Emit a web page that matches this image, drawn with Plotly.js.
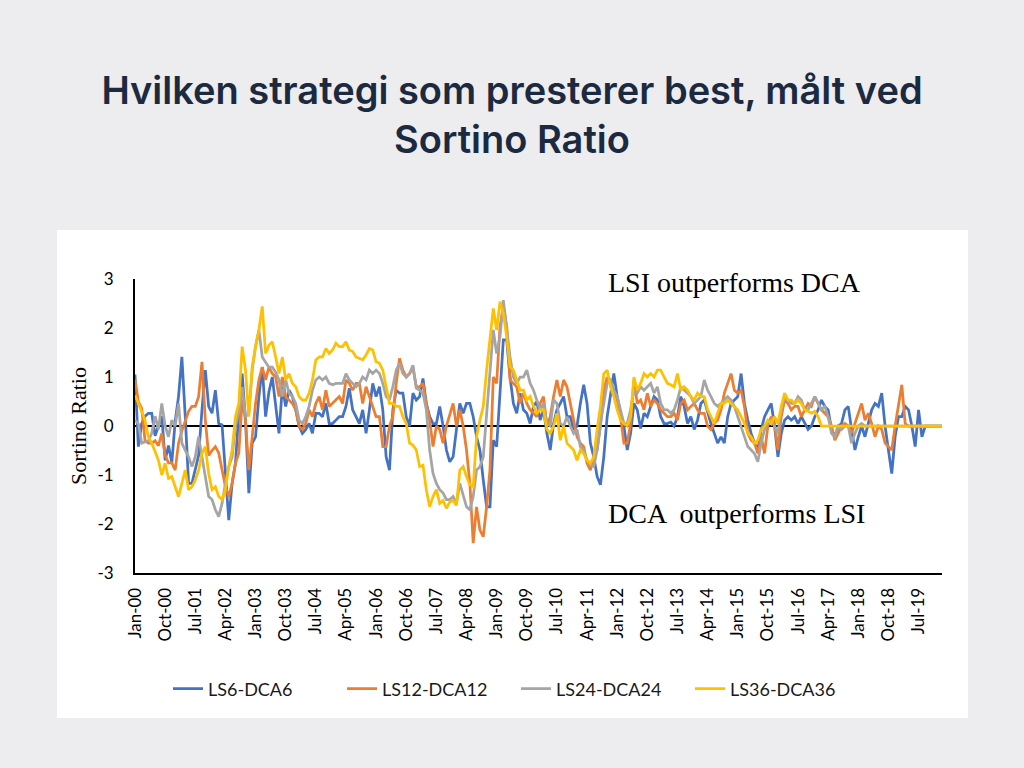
<!DOCTYPE html>
<html>
<head>
<meta charset="utf-8">
<script src="https://cdn.plot.ly/plotly-3.0.1.min.js"></script>
<style>
  html, body { margin: 0; padding: 0; background: #EDECEF; }
  #chart { width: 1024px; height: 768px; }
</style>
</head>
<body>
<div id="chart"></div>
<script>
// Tick labels every 9 months starting Jan-00
const tickLabels = ["Jan-00","Oct-00","Jul-01","Apr-02","Jan-03","Oct-03","Jul-04","Apr-05","Jan-06","Oct-06","Jul-07","Apr-08","Jan-09","Oct-09","Jul-10","Apr-11","Jan-12","Oct-12","Jul-13","Apr-14","Jan-15","Oct-15","Jul-16","Apr-17","Jan-18","Oct-18","Jul-19"];
const yTickValues = [-3, -2, -1, 0, 1, 2, 3];
const yTickLabels = ["-3", "-2", "-1", "0", "1", "2", "3"];
const seriesNames = ["LS6-DCA6", "LS12-DCA12", "LS24-DCA24", "LS36-DCA36"];

const ls6 = [
  1.05, -0.42, 0.05, 0.2, 0.26, 0.26, -0.2, 0.0, 0.2, -0.7,
  -0.4, -0.75, 0.1, 0.6, 1.41, 0.2, -1.17, -1.17, -0.9, -0.6,
  0.33, 1.14, 0.4, 0.26, 0.73, 0.05, 0.02, -0.9, -1.92, -1.17,
  -0.76, 0.26, 1.07, 0.12, -1.37, -0.35, -0.22, 0.6, 1.2, 0.19,
  0.7, 1.0, 0.4, -0.15, 0.8, 0.4, 0.73, 0.6, 0.33, 0.0,
  -0.15, -0.07, 0.05, -0.15, 0.26, 0.26, 0.19, 0.46, 0.05, 0.05,
  0.12, 0.19, 0.19, 0.4, 0.77, 0.33, 0.19, 0.05, 0.33, -0.15,
  0.33, 0.87, 0.6, 0.8, 0.33, -0.63, -0.9, 0.33, 0.73, 0.67,
  0.67, 0.19, 0.0, 0.67, 0.53, 0.6, 0.97, 0.46, 0.19, 0.05,
  0.05, 0.4, 0.0, -0.49, -0.73, -0.63, -0.07, 0.46, 0.26, 0.46,
  0.46, 0.19, -0.22, -0.49, -1.1, -1.65, -1.65, -0.29, -0.42, 0.6,
  1.76, 1.76, 1.0, 0.46, 0.26, 0.67, 0.33, 0.26, 0.05, 0.4,
  0.5, 0.12, 0.33, -0.15, -0.49, 0.05, 0.33, 0.46, 0.6, 0.19,
  0.19, -0.07, 0.0, 0.46, 0.84, 0.46, -0.35, -0.63, -1.03, -1.2,
  -0.63, 0.19, 0.67, 1.07, 0.6, 0.26, 0.0, -0.49, -0.15, 0.46,
  0.33, -0.05, 0.26, 0.19, 0.4, 0.6, 0.53, 0.19, 0.05, 0.05,
  0.08, 0.0, 0.19, 0.6, 0.4, 0.05, 0.19, -0.07, 0.12, 0.46,
  0.53, 0.26, 0.05, -0.15, -0.35, -0.22, -0.35, 0.19, 0.46, 0.53,
  0.6, 1.07, 0.46, 0.12, -0.15, -0.35, -0.49, -0.07, 0.19, 0.33,
  0.46, 0.0, -0.63, -0.15, 0.12, 0.19, 0.12, 0.19, 0.05, 0.19,
  0.05, -0.07, 0.0, 0.19, 0.33, 0.53, 0.4, 0.33, -0.07, -0.22,
  0.0, 0.05, 0.33, 0.4, -0.07, -0.49, -0.22, 0.0, -0.22, 0.05,
  0.33, 0.46, 0.4, 0.67, 0.0, -0.49, -0.97, -0.22, 0.19, 0.19,
  0.4, 0.33, 0.0, -0.42, 0.33, -0.22, 0.0, 0, 0, 0,
  0, 0
];

const ls12 = [
  0.95, 0.5, 0.36, -0.3, -0.35, -0.35, -0.3, -0.4, -0.15, -0.6,
  -0.75, -0.75, -0.9, -0.35, -0.1, 0.1, 0.3, 0.4, 0.4, 0.6,
  1.31, 0.12, -0.6, -0.5, -0.42, -0.55, -0.9, -1.24, -1.44, -1.17,
  -0.76, -0.55, 0.53, 0.12, -0.9, -0.22, 0.46, 0.94, 1.2, 0.94,
  1.2, 1.07, 1.0, 0.6, 1.0, 0.6, 0.53, 0.46, 0.33, 0.0,
  -0.07, 0.05, 0.33, 0.19, 0.46, 0.6, 0.33, 0.73, 0.4, 0.46,
  0.53, 0.6, 0.46, 0.94, 0.87, 0.73, 0.87, 0.87, 0.46, 0.8,
  0.6, 0.4, 0.19, 0.19, -0.42, -0.42, 0.0, 0.19, 0.87, 1.38,
  1.14, 1.0, 1.07, 1.2, 0.8, 0.8, 0.87, 0.46, 0.12, -0.42,
  0.0, -0.07, -0.35, 0.0, 0.26, 0.46, 0.0, 0.33, 0.0, -0.49,
  -1.17, -2.39, -1.65, -2.12, -2.26, -1.65, -0.9, 1.0, 0.87, 2.03,
  2.44, 2.03, 0.94, 0.87, 0.8, 0.46, 0.67, 0.46, 0.33, 0.26,
  0.19, 0.46, 0.6, 0.0, 0.19, 0.6, 0.94, 0.6, 0.94, 0.8,
  0.46, 0.05, -0.22, -0.35, -0.42, -0.76, -0.9, -0.63, -0.49, 0.0,
  0.73, 1.0, 0.87, 0.73, 0.53, 0.19, -0.35, -0.35, 0.05, 0.94,
  0.46, 0.53, 0.33, 0.67, 0.4, 0.53, 0.46, 0.33, 0.26, 0.19,
  0.19, 0.26, 0.12, 0.46, 0.53, 0.33, 0.4, 0.46, 0.33, 0.26,
  0.26, 0.0, -0.07, 0.05, 0.12, 0.33, 0.67, 0.87, 1.07, 0.73,
  0.67, 0.73, 0.4, -0.15, -0.29, -0.35, -0.56, -0.22, -0.56, 0.0,
  0.19, 0.05, -0.49, 0.19, 0.53, 0.46, 0.33, 0.4, 0.4, 0.19,
  0.33, 0.46, 0.4, 0.6, 0.46, 0.33, 0.26, 0.19, 0.0, -0.29,
  -0.15, 0.0, 0.05, 0.0, -0.15, 0.05, 0.26, 0.46, 0.12, 0.26,
  0.05, -0.22, 0.0, -0.07, -0.35, -0.42, -0.49, 0.0, 0.46, 0.84,
  0.05, 0, 0, 0, 0, 0, 0, 0, 0, 0,
  0, 0
];

const ls24 = [
  0.12, 0.05, -0.35, -0.32, -0.3, -0.15, 0.2, -0.07, 0.46, 0.0,
  -0.22, 0.12, 0.0, 0.46, -0.35, -0.5, -0.63, -0.83, -0.63, -0.22,
  -0.63, -1.03, -1.44, -1.5, -1.71, -1.85, -1.58, -1.17, -0.83, -0.63,
  0.0, 0.26, 0.8, 0.19, 0.26, 1.14, 1.62, 1.96, 1.41, 1.3,
  1.2, 1.2, 1.1, 0.94, 0.6, 0.94, 0.67, 0.6, 0.46, 0.12,
  0.05, 0.19, 0.4, 0.73, 0.94, 1.0, 0.94, 1.0, 0.87, 0.84,
  0.87, 0.87, 0.87, 1.07, 0.94, 0.87, 0.8, 0.87, 1.0, 0.94,
  1.14, 1.07, 1.14, 1.07, 0.87, 0.6, 0.53, 0.8, 1.14, 1.28,
  1.07, 1.0, 1.07, 1.24, 0.77, 0.73, 0.67, 0.33, -0.49, -0.97,
  -1.17, -1.3, -1.37, -1.5, -1.5, -1.44, -1.58, -1.17, -1.44, -1.65,
  -1.71, -1.44, -0.9, -0.83, -0.63, 0.26, 1.14, 1.96, 1.48, 1.82,
  2.57, 1.96, 1.41, 1.0, 0.87, 1.0, 1.0, 1.14, 0.87, 0.73,
  0.53, 0.33, 0.46, 0.05, 0.0, 0.53, 0.46, 0.05, 0.0, 0.19,
  0.0, -0.15, -0.07, -0.42, -0.49, -0.7, -0.8, -0.83, -0.49, 0.05,
  0.46, 0.87, 0.94, 0.73, 0.6, 0.33, 0.05, 0.05, 0.33, 0.73,
  0.67, 0.8, 0.73, 0.8, 0.87, 0.67, 0.8, 0.46, 0.33, 0.33,
  0.26, 0.33, 0.53, 0.8, 0.73, 0.67, 0.6, 0.46, 0.53, 0.6,
  0.94, 0.73, 0.6, 0.46, 0.4, 0.46, 0.53, 0.6, 0.53, 0.4,
  0.19, 0.0, -0.22, -0.42, -0.49, -0.56, -0.73, -0.35, -0.07, 0.05,
  0.12, 0.0, -0.15, 0.33, 0.6, 0.53, 0.46, 0.46, 0.6, 0.53,
  0.33, 0.33, 0.46, 0.6, 0.46, 0.33, 0.4, 0.19, -0.15, -0.22,
  0.0, -0.07, 0.0, 0.0, -0.35, -0.15, 0.0, 0.05, 0.0, 0,
  0, 0, 0, 0, 0, 0, 0, 0, 0, 0,
  0, 0, 0, 0, 0, 0, 0, 0, 0, 0,
  0, 0
];

const ls36 = [
  0.63, 0.46, 0.33, 0.12, -0.22, -0.35, -0.52, -0.7, -1.0, -0.76,
  -1.07, -1.03, -1.24, -1.44, -1.17, -0.9, -1.3, -1.24, -1.1, -0.9,
  -0.56, -0.42, -0.97, -1.3, -1.24, -1.44, -1.5, -1.3, -0.83, -0.49,
  0.19, 0.46, 1.62, 1.14, 0.19, 1.21, 1.62, 1.96, 2.44, 1.48,
  1.65, 1.72, 1.41, 1.07, 1.41, 0.94, 1.07, 0.87, 0.8, 0.6,
  0.53, 0.53, 0.67, 0.94, 1.35, 1.41, 1.41, 1.58, 1.48, 1.55,
  1.69, 1.62, 1.62, 1.72, 1.55, 1.52, 1.41, 1.38, 1.35, 1.45,
  1.58, 1.55, 1.31, 1.28, 1.14, 0.8, 0.46, 0.46, 0.4, 0.4,
  0.19, 0.05, -0.35, -0.39, -0.49, -0.83, -0.8, -1.3, -1.65, -1.44,
  -1.3, -1.58, -1.52, -1.68, -1.55, -1.52, -1.62, -0.9, -0.83, -1.03,
  -1.2, -1.24, -0.22, 0.12, 0.4, 1.14, 1.82, 2.4, 1.96, 2.54,
  2.3, 1.82, 1.21, 1.14, 0.94, 0.73, 0.73, 0.53, 0.6, 0.4,
  0.26, 0.33, 0.33, -0.07, -0.15, 0.0, 0.26, -0.29, 0.0, -0.35,
  -0.42, -0.49, -0.7, -0.49, -0.56, -0.7, -0.76, -0.63, -0.07, 0.4,
  1.07, 1.14, 0.8, 0.6, 0.33, 0.12, 0.05, 0.0, 0.19, 1.0,
  0.73, 0.87, 1.07, 1.0, 1.07, 1.0, 1.14, 1.14, 1.0, 0.87,
  0.84, 0.8, 1.07, 0.73, 0.8, 0.73, 0.6, 0.53, 0.67, 0.6,
  0.6, 0.33, 0.19, 0.05, 0.26, 0.46, 0.46, 0.53, 0.46, 0.4,
  0.33, 0.19, 0.05, -0.15, -0.22, -0.35, -0.29, -0.07, 0.0, 0.12,
  0.05, 0.19, 0.05, 0.4, 0.67, 0.53, 0.53, 0.46, 0.53, 0.46,
  0.33, 0.3, 0.26, 0.3, 0.19, 0, 0, 0, 0, 0,
  0, 0, 0, 0, 0, 0, 0, 0, 0, 0,
  0, 0, 0, 0, 0, 0, 0, 0, 0, 0,
  0, 0, 0, 0, 0, 0, 0, 0, 0, 0,
  0, 0
];

const colors = ["#4472C4", "#ED7D31", "#A5A5A5", "#FFC000"];

// monthly category index (Jan-2000 = 0)
const months = ls6.map((_, i) => i);
const tickPositions = tickLabels.map((_, i) => i * 9);

const seriesData = [ls6, ls12, ls24, ls36];
const traces = seriesData.map((ys, k) => ({
  type: "scatter",
  mode: "lines",
  name: seriesNames[k],
  x: months,
  y: ys,
  line: { color: colors[k], width: 2.75 },
  hoverinfo: "skip"
}));

const tickFont = { family: "Lato, 'Liberation Sans', sans-serif", size: 17, color: "#000000" };

const layout = {
  width: 1024,
  height: 768,
  paper_bgcolor: "#EDECEF",
  plot_bgcolor: "rgba(0,0,0,0)",
  margin: { l: 135, r: 82, t: 279, b: 195 },
  title: {
    text: "Hvilken strategi som presterer best, målt ved<br>Sortino Ratio",
    x: 0.5, xref: "container", xanchor: "center",
    y: 1 - 104 / 768, yref: "container", yanchor: "middle",
    font: { family: "Inter, Lato, sans-serif", size: 38, weight: 600, color: "#1B2A40" }
  },
  showlegend: true,
  legend: {
    orientation: "h",
    entrywidth: 129,
    entrywidthmode: "pixels",
    x: (168 - 135) / 807, xanchor: "left",
    y: (573 - 689) / 294, yanchor: "middle",
    font: { family: "Lato, 'Liberation Sans', sans-serif", size: 18, color: "#1A1A1A" },
    bgcolor: "rgba(0,0,0,0)"
  },
  xaxis: {
    range: [0, 241],
    tickmode: "array",
    tickvals: tickPositions,
    ticktext: tickLabels,
    tickangle: -90,
    tickfont: tickFont,
    ticks: "",
    ticklabelstandoff: 6,
    showgrid: false,
    zeroline: false,
    showline: true,
    linecolor: "#000000",
    linewidth: 2,
    fixedrange: true
  },
  yaxis: {
    range: [-3, 3],
    tickmode: "array",
    tickvals: yTickValues,
    ticktext: yTickLabels,
    tickfont: tickFont,
    ticks: "",
    ticklabelstandoff: 16,
    showgrid: false,
    zeroline: true,
    zerolinecolor: "#000000",
    zerolinewidth: 2,
    showline: true,
    linecolor: "#000000",
    linewidth: 2,
    layer: "above traces",
    title: {
      text: "Sortino Ratio",
      standoff: 5,
      font: { family: "'Liberation Serif', 'Times New Roman', serif", size: 22, color: "#000000" }
    },
    fixedrange: true
  },
  shapes: [{
    type: "rect", xref: "paper", yref: "paper",
    x0: (57 - 135) / 807, x1: (968 - 135) / 807,
    y0: (573 - 718) / 294, y1: (573 - 230) / 294,
    fillcolor: "#FFFFFF", line: { width: 0 }, layer: "below"
  }],
  annotations: [
    {
      text: "LSI outperforms DCA", xref: "paper", yref: "paper",
      x: (606 - 135) / 807, xanchor: "left",
      y: (573 - 282) / 294, yanchor: "middle",
      showarrow: false,
      font: { family: "'Liberation Serif', 'Times New Roman', serif", size: 28, color: "#000000" }
    },
    {
      text: "DCA  outperforms LSI", xref: "paper", yref: "paper",
      x: (606 - 135) / 807, xanchor: "left",
      y: (573 - 513) / 294, yanchor: "middle",
      showarrow: false,
      font: { family: "'Liberation Serif', 'Times New Roman', serif", size: 28, color: "#000000" }
    }
  ],
  hovermode: false
};

Plotly.newPlot("chart", traces, layout, { displayModeBar: false, staticPlot: true });
</script>
</body>
</html>
